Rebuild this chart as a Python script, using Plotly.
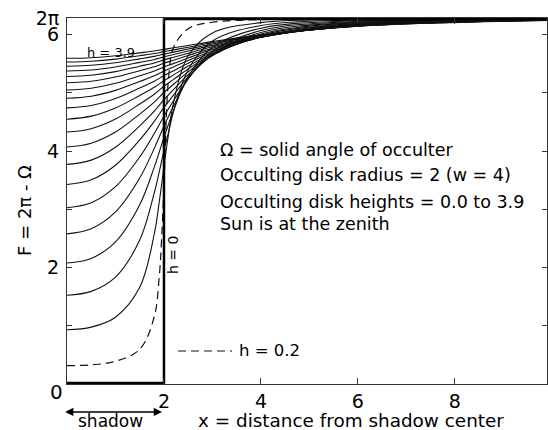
import math
import plotly.graph_objects as go

TWO_PI = 2 * math.pi

# ---- data: F = 2*pi - Omega versus x, one curve per occulter height h ----
X_A = [0, 0.5, 1.0, 1.5, 1.8, 1.9, 1.95, 2.0, 2.1, 2.2, 2.5, 3, 4, 6, 10]   # h = 0.1, 0.3
X_B = [0, 0.5, 1.0, 1.5, 1.8, 1.9, 2.0, 2.1, 2.2, 2.5, 3, 4, 6, 10]         # h = 0.5
X_C = [0, 0.5, 1.0, 1.5, 1.8, 1.9, 2.0, 2.2, 2.5, 3, 4, 6, 10]              # h = 0.7, 0.9
X_D = [0, 0.5, 1.0, 1.5, 1.8, 2.0, 2.2, 2.5, 3, 4, 6, 10]                   # h >= 1.1

F_h01 = [0.314, 0.329, 0.390, 0.596, 1.157, 1.816, 2.470, 3.396, 5.300, 5.780, 6.100, 6.210, 6.256, 6.277, 6.282]
F_h03 = [0.932, 0.976, 1.146, 1.659, 2.575, 3.107, 3.416, 3.740, 4.326, 4.844, 5.638, 6.027, 6.203, 6.264, 6.279]
F_h05 = [1.524, 1.590, 1.835, 2.473, 3.281, 3.632, 4.005, 4.341, 4.687, 5.396, 5.887, 6.153, 6.251, 6.277]
F_h07 = [2.076, 2.156, 2.439, 3.077, 3.724, 3.974, 4.231, 4.702, 5.280, 5.783, 6.108, 6.239, 6.274]
F_h09 = [2.577, 2.665, 2.954, 3.537, 4.045, 4.236, 4.426, 4.775, 5.240, 5.711, 6.068, 6.227, 6.272]
F_h11 = [3.027, 3.113, 3.389, 3.898, 4.299, 4.597, 4.866, 5.244, 5.667, 6.035, 6.215, 6.270]
F_h13 = [3.424, 3.505, 3.755, 4.190, 4.508, 4.748, 4.962, 5.271, 5.645, 6.008, 6.205, 6.267]
F_h15 = [3.770, 3.843, 4.064, 4.431, 4.686, 4.881, 5.056, 5.312, 5.638, 5.987, 6.195, 6.265]
F_h17 = [4.069, 4.134, 4.325, 4.634, 4.840, 5.004, 5.146, 5.359, 5.643, 5.971, 6.186, 6.263]
F_h19 = [4.325, 4.383, 4.548, 4.806, 4.974, 5.111, 5.230, 5.408, 5.655, 5.961, 6.178, 6.260]
F_h21 = [4.546, 4.598, 4.738, 4.954, 5.093, 5.207, 5.307, 5.458, 5.673, 5.955, 6.171, 6.258]
F_h23 = [4.741, 4.782, 4.900, 5.082, 5.197, 5.295, 5.379, 5.507, 5.694, 5.952, 6.165, 6.256]
F_h25 = [4.906, 4.941, 5.041, 5.194, 5.290, 5.373, 5.444, 5.553, 5.717, 5.952, 6.160, 6.254]
F_h27 = [5.048, 5.078, 5.163, 5.292, 5.373, 5.443, 5.504, 5.598, 5.741, 5.954, 6.155, 6.253]
F_h29 = [5.172, 5.197, 5.269, 5.378, 5.447, 5.506, 5.559, 5.640, 5.765, 5.959, 6.152, 6.251]
F_h31 = [5.280, 5.301, 5.362, 5.455, 5.512, 5.564, 5.609, 5.679, 5.789, 5.965, 6.149, 6.249]
F_h33 = [5.374, 5.391, 5.443, 5.522, 5.572, 5.616, 5.655, 5.716, 5.813, 5.971, 6.146, 6.248]
F_h35 = [5.455, 5.471, 5.515, 5.582, 5.625, 5.663, 5.698, 5.750, 5.836, 5.979, 6.145, 6.246]
F_h37 = [5.527, 5.541, 5.578, 5.636, 5.673, 5.706, 5.736, 5.782, 5.858, 5.987, 6.144, 6.245]
F_h39 = [5.591, 5.602, 5.635, 5.685, 5.717, 5.745, 5.772, 5.812, 5.878, 5.996, 6.144, 6.243]

# h = 0 : step function (full shadow inside x < 2)
STEP_X = [0, 2, 2, 10]
STEP_Y = [0, 0, TWO_PI, TWO_PI]

SOLID_CURVES = [
    (X_A, F_h03), (X_B, F_h05), (X_C, F_h07), (X_C, F_h09),
    (X_D, F_h11), (X_D, F_h13), (X_D, F_h15), (X_D, F_h17), (X_D, F_h19),
    (X_D, F_h21), (X_D, F_h23), (X_D, F_h25), (X_D, F_h27), (X_D, F_h29),
    (X_D, F_h31), (X_D, F_h33), (X_D, F_h35), (X_D, F_h37), (X_D, F_h39),
]

FONT = "DejaVu Sans"
INK = "#111111"

fig = go.Figure()

for xs, ys in SOLID_CURVES:
    fig.add_trace(go.Scatter(x=xs, y=ys, mode="lines",
                             line=dict(color=INK, width=1.1, shape="spline", smoothing=1.0),
                             hoverinfo="skip", showlegend=False))

fig.add_trace(go.Scatter(x=X_A, y=F_h01, mode="lines",
                         line=dict(color=INK, width=1.2, dash="8px,5px", shape="spline", smoothing=1.0),
                         hoverinfo="skip", showlegend=False))

# h = 0 step: horizontal parts sit on the frame (half clipped), so drawn wider
fig.add_trace(go.Scatter(x=STEP_X[0:2], y=STEP_Y[0:2], mode="lines",
                         line=dict(color="black", width=4.5), hoverinfo="skip", showlegend=False))
fig.add_trace(go.Scatter(x=STEP_X[1:3], y=STEP_Y[1:3], mode="lines",
                         line=dict(color="black", width=2.5), hoverinfo="skip", showlegend=False))
fig.add_trace(go.Scatter(x=STEP_X[2:4], y=STEP_Y[2:4], mode="lines",
                         line=dict(color="black", width=4.5), hoverinfo="skip", showlegend=False))

axis_common = dict(showgrid=False, zeroline=False, showline=True, linecolor="#333333",
                   linewidth=1, mirror="ticks", ticks="inside", tickcolor="#333333")

fig.update_xaxes(range=[0, 9.9], tickvals=[0, 2, 4, 6, 8], ticktext=["", "2", "4", "6", "8"],
                 ticklen=6, ticklabelstandoff=0,
                 tickfont=dict(family=FONT, size=19, color="black"), **axis_common)
fig.update_yaxes(range=[0, TWO_PI], tickvals=[0, 1, 2, 3, 4, 5, 6, TWO_PI],
                 ticktext=["", "", "2", "", "4", "", "6", "2π"],
                 ticklen=5, ticklabelstandoff=3,
                 tickfont=dict(family=FONT, size=19, color="black"), **axis_common)

def note(text, x, y, size=16, xanchor="left", angle=0):
    fig.add_annotation(text=text, x=x, y=y, xref="paper", yref="paper", showarrow=False,
                       xanchor=xanchor, yanchor="middle", textangle=angle,
                       font=dict(family=FONT, size=size, color="black"))

note("Ω = solid angle of occulter", 0.3146, 0.6393, size=17.5)
note("Occulting disk radius = 2 (w = 4)", 0.3146, 0.5710, size=17.5)
note("Occulting disk heights = 0.0 to 3.9", 0.3146, 0.4973, size=17.5)
note("Sun is at the zenith", 0.3146, 0.4372, size=17.5)
note("h = 3.9", 0.0917, 0.9071, size=13, xanchor="center")
note("h = 0", 0.2208, 0.3525, size=14, xanchor="center", angle=-90)
note("h = 0.2", 0.3542, 0.0902, size=16.5)
note("0", -0.0229, -0.0219, size=20, xanchor="center")
note("F = 2π - Ω", -0.0896, 0.4754, size=18, xanchor="center", angle=-90)
note("x = distance from shadow center", 0.5917, -0.0984, size=18.4, xanchor="center")
note("shadow", 0.0896, -0.1010, size=17, xanchor="center")

# legend sample for the dashed curve
fig.add_shape(type="line", xref="paper", yref="paper", x0=0.2313, x1=0.3438, y0=0.0902, y1=0.0902,
              line=dict(color=INK, width=1.2, dash="8px,5px"))

# double-headed "shadow" arrow spanning the shadow (x = 0 .. 2)
fig.add_annotation(x=1.96, y=-0.0765, xref="x", yref="paper", ax=-0.07, ay=0, axref="x", ayref="pixel",
                   text="", showarrow=True, arrowside="end+start", arrowhead=2, startarrowhead=2,
                   arrowsize=1.1, startarrowsize=1.1, arrowwidth=1.5, arrowcolor="black")

fig.update_layout(width=548, height=430, margin=dict(l=67, r=1, t=18, b=46),
                  paper_bgcolor="white", plot_bgcolor="white", showlegend=False)

fig.write_html("out.html")
